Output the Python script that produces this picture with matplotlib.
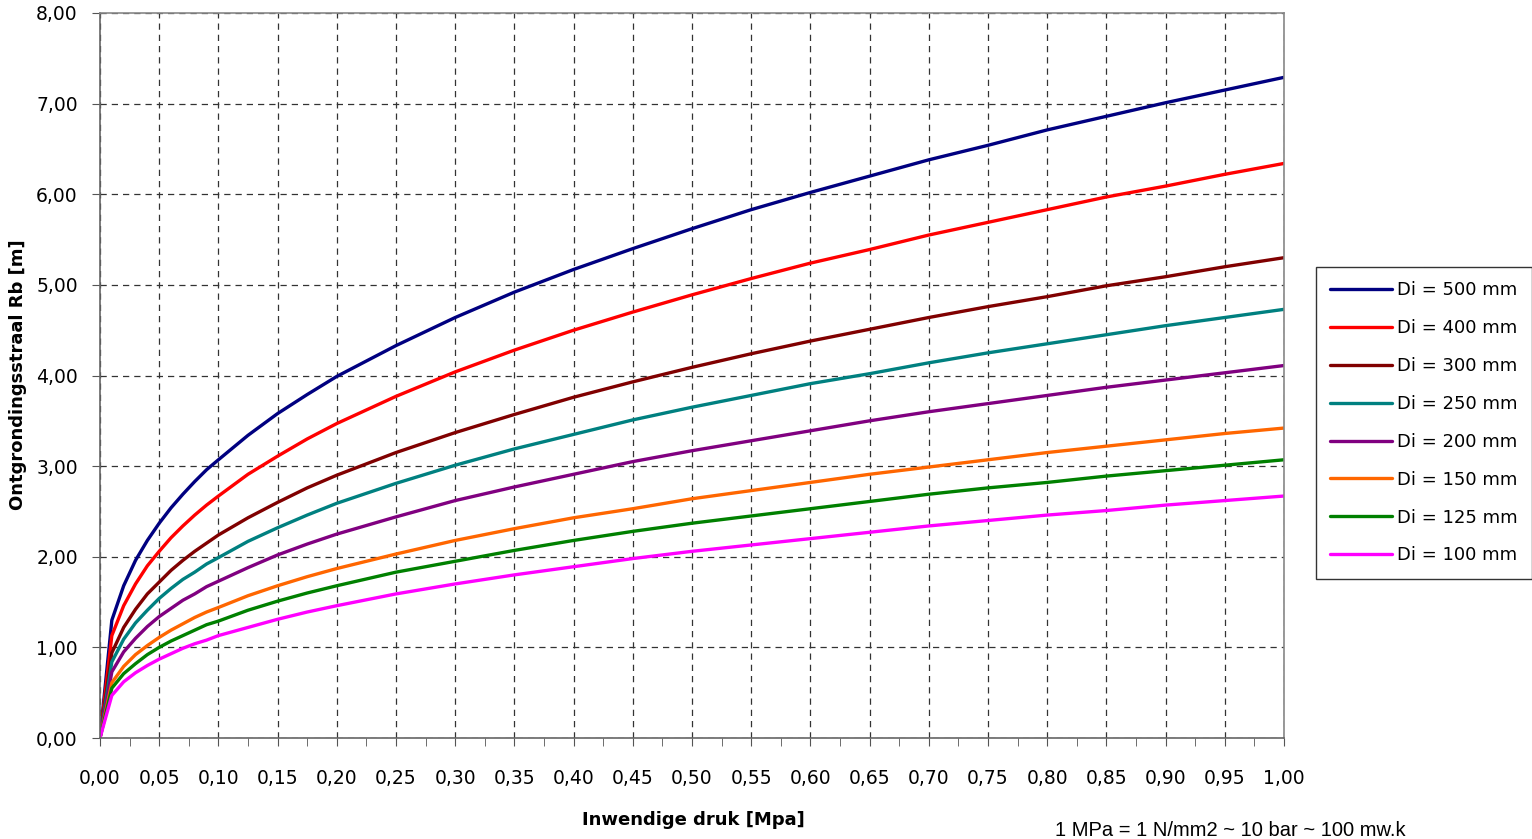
import matplotlib
matplotlib.use("Agg")
import matplotlib.pyplot as plt
from matplotlib.ticker import MultipleLocator, FuncFormatter

# Pressure (MPa)
druk = [0.00, 0.01, 0.02, 0.03, 0.04, 0.05, 0.06, 0.07, 0.08, 0.09, 0.10,
        0.125, 0.15, 0.175, 0.20, 0.25, 0.30, 0.35, 0.40, 0.45, 0.50,
        0.55, 0.60, 0.65, 0.70, 0.75, 0.80, 0.85, 0.90, 0.95, 1.00]

di_500 = [0.00, 1.30, 1.68, 1.96, 2.18, 2.37, 2.54, 2.69, 2.83, 2.96, 3.07,
          3.34, 3.58, 3.79, 3.99, 4.33, 4.64, 4.92, 5.17, 5.40, 5.62,
          5.83, 6.02, 6.20, 6.38, 6.54, 6.71, 6.86, 7.01, 7.15, 7.29]
di_400 = [0.00, 1.13, 1.46, 1.70, 1.90, 2.06, 2.21, 2.34, 2.46, 2.57, 2.67,
          2.91, 3.11, 3.30, 3.47, 3.77, 4.04, 4.28, 4.50, 4.70, 4.89,
          5.07, 5.24, 5.39, 5.55, 5.69, 5.83, 5.97, 6.09, 6.22, 6.34]
di_300 = [0.00, 0.94, 1.22, 1.42, 1.59, 1.72, 1.85, 1.96, 2.06, 2.15, 2.24,
          2.43, 2.60, 2.76, 2.90, 3.15, 3.37, 3.57, 3.76, 3.93, 4.09,
          4.24, 4.38, 4.51, 4.64, 4.76, 4.87, 4.99, 5.09, 5.20, 5.30]
di_250 = [0.00, 0.84, 1.09, 1.27, 1.41, 1.54, 1.65, 1.75, 1.83, 1.92, 1.99,
          2.17, 2.32, 2.46, 2.59, 2.81, 3.01, 3.19, 3.35, 3.51, 3.65,
          3.78, 3.91, 4.02, 4.14, 4.25, 4.35, 4.45, 4.55, 4.64, 4.73]
di_200 = [0.00, 0.73, 0.95, 1.10, 1.23, 1.34, 1.43, 1.52, 1.59, 1.67, 1.73,
          1.88, 2.02, 2.14, 2.25, 2.44, 2.62, 2.77, 2.91, 3.05, 3.17,
          3.28, 3.39, 3.50, 3.60, 3.69, 3.78, 3.87, 3.95, 4.03, 4.11]
di_150 = [0.00, 0.61, 0.79, 0.92, 1.02, 1.11, 1.19, 1.26, 1.33, 1.39, 1.44,
          1.57, 1.68, 1.78, 1.87, 2.03, 2.18, 2.31, 2.43, 2.53, 2.64,
          2.73, 2.82, 2.91, 2.99, 3.07, 3.15, 3.22, 3.29, 3.36, 3.42]
di_125 = [0.00, 0.55, 0.71, 0.82, 0.92, 1.00, 1.07, 1.13, 1.19, 1.25, 1.29,
          1.41, 1.51, 1.60, 1.68, 1.83, 1.95, 2.07, 2.18, 2.28, 2.37,
          2.45, 2.53, 2.61, 2.69, 2.76, 2.82, 2.89, 2.95, 3.01, 3.07]
di_100 = [0.00, 0.47, 0.62, 0.72, 0.80, 0.87, 0.93, 0.99, 1.04, 1.08, 1.13,
          1.22, 1.31, 1.39, 1.46, 1.59, 1.70, 1.80, 1.89, 1.98, 2.06,
          2.13, 2.20, 2.27, 2.34, 2.40, 2.46, 2.51, 2.57, 2.62, 2.67]

labels = ["Di = 500 mm", "Di = 400 mm", "Di = 300 mm", "Di = 250 mm",
          "Di = 200 mm", "Di = 150 mm", "Di = 125 mm", "Di = 100 mm"]
series = [di_500, di_400, di_300, di_250, di_200, di_150, di_125, di_100]
colors = ["#000080", "#FF0000", "#800000", "#008080",
          "#800080", "#FF6600", "#008000", "#FF00FF"]

fig = plt.figure(figsize=(15.32, 8.39), dpi=100)
ax = fig.add_axes([100/1532, 101/839, 1184/1532, 725/839])

handles = []
for ys, c, lab in zip(series, colors, labels):
    h, = ax.plot(druk, ys, color=c, lw=2.4, label=lab, solid_capstyle="round")
    handles.append(h)

ax.set_xlim(0, 1.0)
ax.set_ylim(0, 8)
ax.xaxis.set_major_locator(MultipleLocator(0.05))
ax.xaxis.set_minor_locator(MultipleLocator(0.025))
ax.yaxis.set_major_locator(MultipleLocator(1))
fmt = FuncFormatter(lambda v, p: f"{v:.2f}".replace(".", ","))
ax.xaxis.set_major_formatter(fmt)
ax.yaxis.set_major_formatter(fmt)

ax.grid(True, which="major", color="#333333", linestyle=(0, (5, 4)), lw=0.9)
ax.set_axisbelow(True)
ax.tick_params(axis="both", which="both", direction="out", length=6,
               color="#555555", labelsize=13.5, pad=10)
ax.tick_params(axis="x", which="major", pad=16)
ax.tick_params(axis="x", which="minor", length=6)
for side in ["top", "right"]:
    ax.spines[side].set_color("#888888")
    ax.spines[side].set_linewidth(1.2)
for side in ["left", "bottom"]:
    ax.spines[side].set_color("#666666")
    ax.spines[side].set_linewidth(1.2)

fig.text(18/1532, 1 - 375/839, "Ontgrondingsstraal Rb [m]", rotation=90,
         ha="center", va="center", fontsize=13, fontweight="bold")
fig.text(693/1532, 1 - 820/839, "Inwendige druk [Mpa]", ha="center",
         va="center", fontsize=13, fontweight="bold")
fig.text(1055/1532, 1 - 821/839, "1 MPa = 1 N/mm2 ~ 10 bar ~ 100 mw.k",
         ha="left", va="top", fontsize=14.5, family="Liberation Sans")

leg = fig.legend(handles=handles, labels=labels, loc="upper left",
                 bbox_to_anchor=(1316/1532, 1 - 267/839), fontsize=13,
                 frameon=True, fancybox=False, edgecolor="#000000",
                 handlelength=3.4, handletextpad=0.3, labelspacing=1.1,
                 borderpad=0.8, borderaxespad=0)
leg.get_frame().set_linewidth(1.0)

fig.savefig("out.png", dpi=100)
